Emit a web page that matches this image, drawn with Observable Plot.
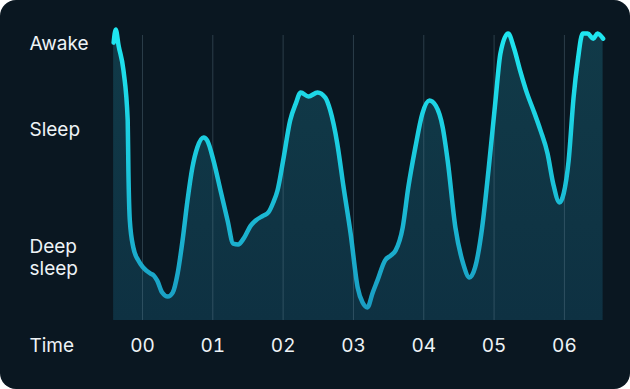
<!DOCTYPE html>
<html>
<head>
<meta charset="utf-8">
<script src="https://cdn.jsdelivr.net/npm/d3@7"></script>
<script src="https://cdn.jsdelivr.net/npm/@observablehq/plot@0.6"></script>
<style>
  html, body { margin: 0; padding: 0; background: #ffffff; }
  #card { width: 630px; height: 389px; border-radius: 16px; overflow: hidden; background: #0a1721; }
  #card svg { display: block; }
</style>
</head>
<body>
<div id="card"></div>
<script>
// Time in hours relative to 00, sleep-depth value (0 = baseline, ~100 = awake)
const hours = [-0.41,-0.38,-0.34,-0.27,-0.21,-0.20,-0.18,-0.13,-0.06,0.01,0.11,0.16,0.21,0.28,0.36,0.43,0.50,0.57,0.64,0.71,0.78,0.87,0.92,1.01,1.11,1.21,1.29,1.36,1.44,1.54,1.61,1.72,1.79,1.86,1.92,2.00,2.10,2.18,2.25,2.36,2.49,2.60,2.67,2.77,2.86,2.96,3.06,3.13,3.20,3.27,3.34,3.45,3.53,3.60,3.70,3.78,3.88,3.98,4.08,4.17,4.27,4.34,4.45,4.56,4.65,4.73,4.83,4.92,5.02,5.09,5.20,5.28,5.37,5.47,5.56,5.66,5.76,5.84,5.93,5.99,6.06,6.13,6.19,6.26,6.33,6.41,6.47,6.55];
const depth = [97.5,102.1,96.5,87.7,70.2,52.6,35.1,25.6,21.1,18.6,16.5,15.8,14.0,9.8,8.4,9.8,16.5,28.1,42.1,53.7,60.7,64.2,63.2,56.1,45.6,35.1,27.0,26.7,28.8,33.3,35.1,36.8,37.9,41.4,45.6,56.1,70.2,76.1,80.0,78.6,80.0,78.2,73.7,62.1,46.7,30.5,11.6,6.3,4.6,9.5,14.0,21.1,22.8,24.6,32.6,46.7,60.7,72.6,77.2,75.4,67.7,56.1,32.6,20.0,15.1,18.6,32.6,52.6,77.2,93.7,100.7,95.8,87.7,79.6,73.7,66.7,58.6,48.1,41.4,44.6,56.1,78.2,91.2,100.7,100.7,98.9,100.7,98.9];

const tickHours = [0, 1, 2, 3, 4, 5, 6];
const tickLabels = ["00", "01", "02", "03", "04", "05", "06"];
const stageTicks = [97.5, 67.2, 22.3];
const stageLabels = ["Awake", "Sleep", "Deep\nsleep"];
const axisTitle = "Time";

const data = hours.map((h, i) => ({h, v: depth[i]}));

const defs = () => {
  const g = document.createElementNS("http://www.w3.org/2000/svg", "g");
  g.innerHTML = `<defs>
    <linearGradient id="lineGrad" gradientUnits="userSpaceOnUse" x1="0" y1="30" x2="0" y2="310">
      <stop offset="0" stop-color="#1fe6f0"/>
      <stop offset="0.45" stop-color="#1bc9dd"/>
      <stop offset="1" stop-color="#1a9cc2"/>
    </linearGradient>
    <linearGradient id="areaGrad" gradientUnits="userSpaceOnUse" x1="0" y1="30" x2="0" y2="320">
      <stop offset="0" stop-color="#113a48"/>
      <stop offset="1" stop-color="#0e3142"/>
    </linearGradient>
  </defs>`;
  return g;
};

const chart = Plot.plot({
  width: 630,
  height: 389,
  marginLeft: 113,
  marginRight: 26,
  marginTop: 35,
  marginBottom: 69,
  style: {background: "transparent", fontFamily: "Inter, 'Noto Sans', sans-serif", fontSize: "19px", color: "#eef3f6"},
  x: {domain: [-0.412, 6.57]},
  y: {domain: [0, 100]},
  marks: [
    defs,
    Plot.areaY(data, {x: "h", y: "v", fill: "url(#areaGrad)", curve: "monotone-x"}),
    Plot.gridX(tickHours, {stroke: "#7a98a8", strokeOpacity: 0.3, strokeWidth: 1}),
    Plot.lineY(data, {x: "h", y: "v", stroke: "url(#lineGrad)", strokeWidth: 4.5, curve: "monotone-x", strokeLinejoin: "round", strokeLinecap: "round"}),
    Plot.axisX(tickHours, {tickSize: 0, tickPadding: 18, tickFormat: (d) => tickLabels[tickHours.indexOf(d)], label: null, fill: "#eef3f6", fontSize: 19}),
    Plot.axisY(stageTicks, {tickSize: 0, tickPadding: 0, dx: -84, textAnchor: "start", tickFormat: d => stageLabels[stageTicks.indexOf(d)], label: null, fill: "#eef3f6", fontSize: 19, lineHeight: 1.15}),
    Plot.text([axisTitle], {frameAnchor: "bottom-left", dx: -84, dy: 25, textAnchor: "start", lineAnchor: "middle", fill: "#eef3f6", fontSize: 19})
  ]
});
document.getElementById("card").appendChild(chart);
</script>
</body>
</html>
